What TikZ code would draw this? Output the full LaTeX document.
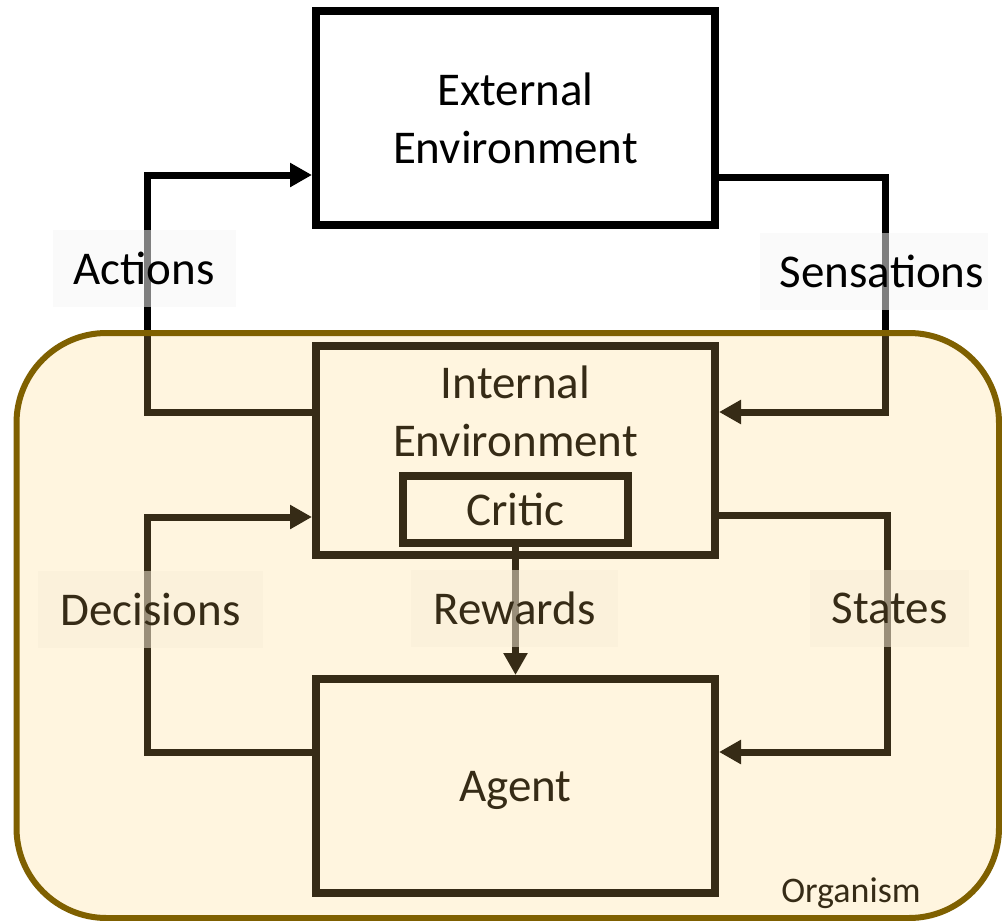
\documentclass[tikz,border=0pt]{standalone}
\usepackage{fontspec}
\setmainfont{Carlito}
\usetikzlibrary{arrows.meta}
\definecolor{orgfill}{RGB}{255,207,105}
\definecolor{orgline}{RGB}{127,96,0}
\definecolor{tagfill}{RGB}{245,245,245}
\begin{document}
\begin{tikzpicture}[x=1pt,y=-1pt,
  block/.style={draw=black, line width=8pt, minimum width=399pt, inner sep=0pt},
  flow/.style={draw=black, line width=7pt, -{Triangle[length=22pt,width=23pt]}},
  tag/.style={fill=tagfill, fill opacity=0.52, text opacity=1, inner sep=0pt, minimum height=77pt},
  font=\fontsize{47}{58}\selectfont]
\useasboundingbox (0,0) rectangle (1002,921);

% boxes
\node[block, minimum height=214pt, align=center] (ext) at (515.5,118) {External\\Environment};
\node[block, minimum height=209pt] (int) at (515.5,450.5) {};
\node[align=center, inner sep=0pt] (intname) at (515.5,411) {Internal\\Environment};
\node[block, minimum width=225pt, minimum height=67pt] (critic) at (515.5,509.5) {Critic};
\node[block, minimum height=214pt, text depth=0pt] (agent) at (515.5,786) {Agent};

% connectors
\coordinate (actbend) at (147,175);
\coordinate (sensbend) at (885,412);
\coordinate (decbend) at (147,517);
\coordinate (statebend) at (887,752);
\draw[flow] ([yshift=38.5pt]int.west) -| (actbend) -- (actbend -| ext.west);
\draw[flow] ([yshift=-59pt]ext.east) -| (sensbend) -- (sensbend -| int.east);
\draw[flow] ([yshift=34pt]agent.west) -| (decbend) -- (decbend -| int.west);
\draw[flow] ([yshift=-64.5pt]int.east) -| (statebend) -- (statebend -| agent.east);
\draw[flow] (critic.south) -- (agent.north);

% connector labels
\node[tag, minimum width=183pt] (actions) at (144,268.5) {Actions};
\node[tag, minimum width=228pt] (sensations) at (874,271) {\hspace{16pt}Sensations};
\node[tag, minimum width=225pt] (decisions) at (150.5,609) {Decisions};
\node[tag, minimum width=207pt] (rewards) at (514.5,608.5) {Rewards};
\node[tag, minimum width=159pt] (states) at (889.5,608.5) {States};

% organism region, tinted over its contents
\node[font=\fontsize{36}{43}\selectfont, anchor=base] (orglabel) at (851,902) {Organism};
\draw[draw=orgline, line width=6pt, fill=orgfill, fill opacity=0.21, rounded corners=90pt]
  (16.5,333) rectangle (999,918);
\end{tikzpicture}
\end{document}
